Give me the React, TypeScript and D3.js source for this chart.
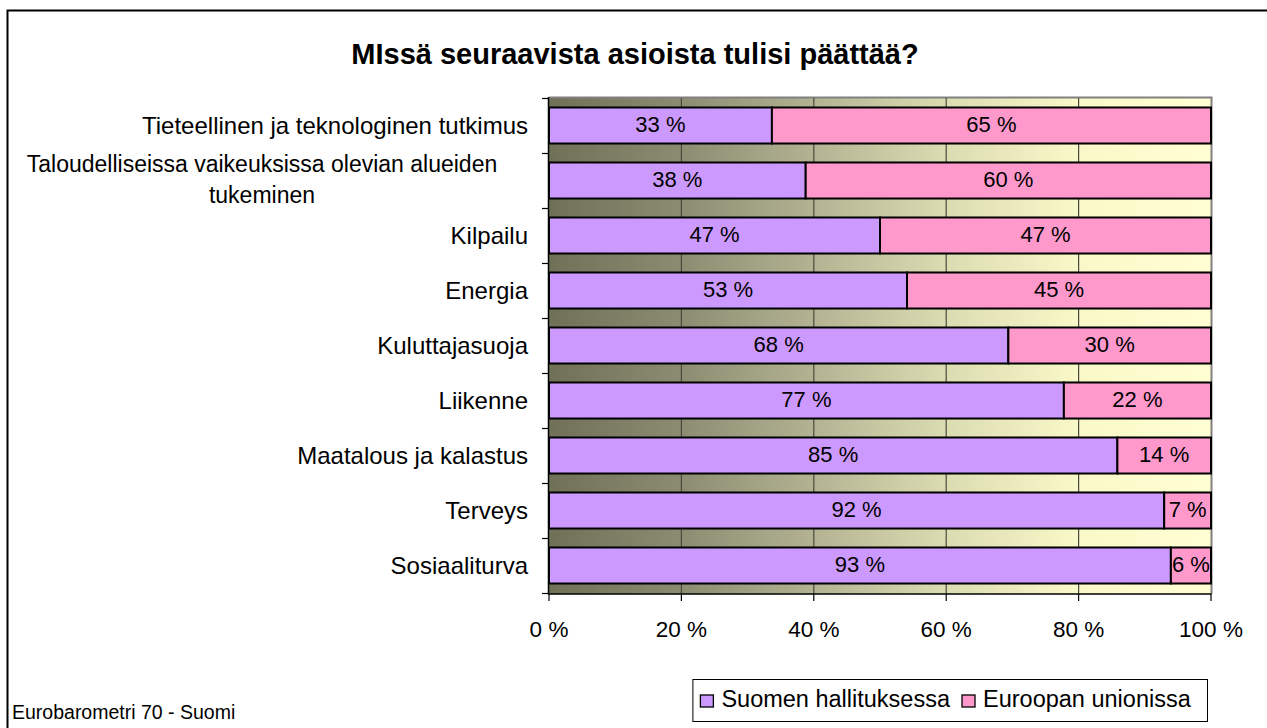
import React, { useLayoutEffect, useRef, useState } from "react";
import * as d3 from "d3";

const categories = [
  "Tieteellinen ja teknologinen tutkimus",
  "Taloudelliseissa vaikeuksissa olevian alueiden\ntukeminen",
  "Kilpailu",
  "Energia",
  "Kuluttajasuoja",
  "Liikenne",
  "Maatalous ja kalastus",
  "Terveys",
  "Sosiaaliturva",
];
const suomenHallituksessa = [33, 38, 47, 53, 68, 77, 85, 92, 93];
const euroopanUnionissa = [65, 60, 47, 45, 30, 22, 14, 7, 6];
const seriesNames = ["Suomen hallituksessa", "Euroopan unionissa"];
const seriesColors = ["#cc99ff", "#ff99cc"];
const xTicks = [0, 0.2, 0.4, 0.6, 0.8, 1];
const title = "MIssä seuraavista asioista tulisi päättää?";
const footer = "Eurobarometri 70 - Suomi";

const W = 1267;
const H = 728;
const FONT = "'Liberation Sans', Arial, sans-serif";

export default function App() {
  const left = 549, right = 1211, top = 98, bottom = 593;
  const x = d3.scaleLinear().domain([0, 1]).range([left, right]);
  const y = d3
    .scaleBand<string>()
    .domain(categories)
    .range([top, bottom])
    .paddingInner(0.345)
    .paddingOuter(0.1725);
  const step = y.step();
  const bw = y.bandwidth();

  const leg1 = useRef<SVGTextElement>(null);
  const [leg1W, setLeg1W] = useState(227);
  useLayoutEffect(() => {
    if (leg1.current) setLeg1W(leg1.current.getComputedTextLength());
  }, []);

  const rows = categories.map((c, i) => {
    const a = suomenHallituksessa[i];
    const b = euroopanUnionissa[i];
    const t = a + b;
    return { c, vals: [a, b], segs: [[0, a / t], [a / t, 1]] };
  });

  const legText1End = 950;
  const legText1Start = legText1End - leg1W;
  const sw1 = legText1Start - 21;
  const boxLeft = sw1 - 8;

  return (
    <svg
      width={W}
      height={H}
      style={{ position: "absolute", left: 0, top: 0, background: "#fff" }}
      fontFamily={FONT}
    >
      <defs>
        <linearGradient id="bg" x1="0" x2="1" y1="0" y2="0">
          <stop offset="0" stopColor="#707059" />
          <stop offset="0.2" stopColor="#8c8c72" />
          <stop offset="0.4" stopColor="#b3b393" />
          <stop offset="0.6" stopColor="#dcdcb2" />
          <stop offset="0.8" stopColor="#f8f8c8" />
          <stop offset="1" stopColor="#ffffd3" />
        </linearGradient>
      </defs>
      {/* outer frame */}
      <path d={`M7.5,${H + 2} V10.5 H${W + 2}`} fill="none" stroke="#000" strokeWidth={2} />
      {/* title */}
      <text x={635} y={64} textAnchor="middle" fontWeight="bold" fontSize={29} fill="#000">
        {title}
      </text>
      {/* plot background */}
      <rect x={left} y={top} width={right - left} height={bottom - top + 1} fill="url(#bg)" />
      <path
        d={`M${left},${top - 0.5} H${right + 0.5} V${bottom + 1}`}
        fill="none"
        stroke="#808080"
        strokeWidth={2}
      />
      {/* gridlines */}
      {xTicks.slice(1, -1).map((t) => (
        <line key={t} x1={x(t)} x2={x(t)} y1={top} y2={bottom + 1} stroke="#4a4a40" strokeWidth={1.2} />
      ))}
      {/* bars */}
      {rows.map((r, i) => (
        <g key={i}>
          {r.segs.map((s, j) => {
            const x0 = x(s[0]);
            const x1 = x(s[1]);
            const yy = y(r.c)!;
            return (
              <g key={j}>
                <rect
                  x={x0}
                  y={yy}
                  width={x1 - x0}
                  height={bw}
                  fill={seriesColors[j]}
                  stroke="#000"
                  strokeWidth={2}
                />
                <text
                  x={(x0 + x1) / 2}
                  y={yy + bw / 2 + 6}
                  textAnchor="middle"
                  fontSize={22}
                  fill="#000"
                >
                  {r.vals[j]} %
                </text>
              </g>
            );
          })}
        </g>
      ))}
      {/* left axis */}
      <line x1={left - 0.5} x2={left - 0.5} y1={top - 1} y2={bottom + 1.5} stroke="#000" strokeWidth={1.5} />
      {d3.range(categories.length + 1).map((k) => (
        <line
          key={k}
          x1={left - 7}
          x2={left}
          y1={top + k * step + 0.5}
          y2={top + k * step + 0.5}
          stroke="#000"
          strokeWidth={1.2}
        />
      ))}
      {/* bottom axis */}
      <line x1={left - 0.5} x2={right + 0.5} y1={bottom + 1} y2={bottom + 1} stroke="#000" strokeWidth={1.5} />
      {xTicks.map((t) => (
        <g key={t}>
          <line x1={x(t)} x2={x(t)} y1={bottom + 1} y2={bottom + 8} stroke="#000" strokeWidth={1.2} />
          <text x={x(t)} y={637} textAnchor="middle" fontSize={22.5} fill="#000">
            {Math.round(t * 100)} %
          </text>
        </g>
      ))}
      {/* category labels */}
      {categories.map((c) => {
        const lines = c.split("\n");
        const cy = y(c)! + bw / 2;
        if (lines.length === 1) {
          return (
            <text key={c} x={528} y={cy + 8} textAnchor="end" fontSize={24} fill="#000">
              {c}
            </text>
          );
        }
        return (
          <text key={c} x={262} textAnchor="middle" fontSize={23} fill="#000">
            {lines.map((l, k) => (
              <tspan key={k} x={262} y={cy + 6.7 + (k - (lines.length - 1) / 2) * 31}>
                {l}
              </tspan>
            ))}
          </text>
        );
      })}
      {/* legend */}
      <rect
        x={boxLeft + 0.5}
        y={679.5}
        width={1207 - boxLeft}
        height={42}
        fill="#fff"
        stroke="#000"
        strokeWidth={1}
      />
      <rect x={sw1} y={695} width={13} height={12} fill={seriesColors[0]} stroke="#000" strokeWidth={1.3} />
      <text ref={leg1} x={legText1Start} y={707} fontSize={23.5} fill="#000">{seriesNames[0]}</text>
      <rect x={962} y={695} width={13} height={12} fill={seriesColors[1]} stroke="#000" strokeWidth={1.3} />
      <text x={983} y={707} fontSize={23.5} fill="#000">{seriesNames[1]}</text>
      {/* footer */}
      <text x={12} y={719} fontSize={19.5} fill="#000">{footer}</text>
    </svg>
  );
}
